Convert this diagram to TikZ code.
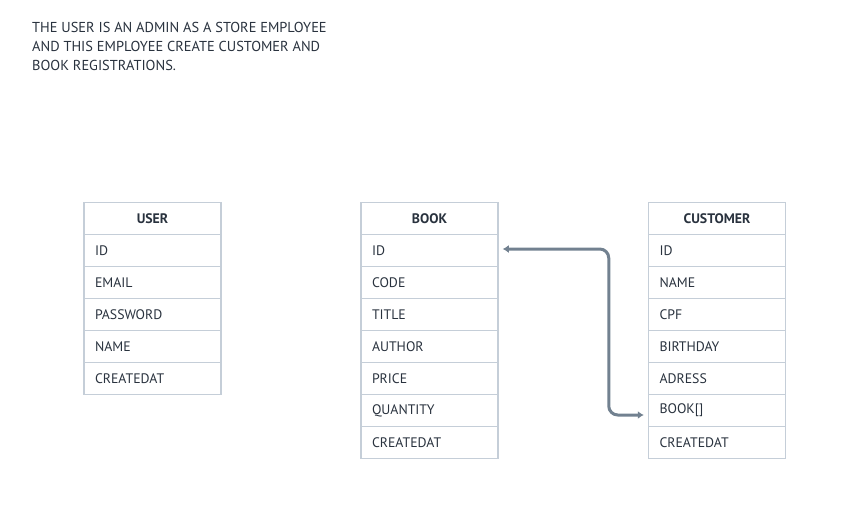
\documentclass[tikz,border=0pt]{standalone}
\usepackage{fontspec}
\setmainfont{PT Sans}
\usetikzlibrary{arrows.meta,positioning}
\definecolor{inkdark}{HTML}{29323E}
\definecolor{gridline}{HTML}{C5CED8}
\definecolor{linkgray}{HTML}{728190}

\begin{document}
\begin{tikzpicture}[x=1pt,y=1pt,>=Latex,
  row/.style={draw=gridline,line width=1.5pt,minimum width=137pt,minimum height=32pt,
    text width=115pt,align=left,inner sep=0pt,font=\fontsize{13.8}{16}\selectfont,text=inkdark},
  head/.style={row,align=center,font=\fontsize{13.8}{16}\selectfont\bfseries},
  link/.style={<->,linkgray,line width=3pt,rounded corners=9pt,
    >={Latex[length=6pt,width=8pt]}}]
  \useasboundingbox (0,0) rectangle (860,-524);
  \node[anchor=north west,align=left,inner sep=0pt,text=inkdark,
    font=\fontsize{14.4}{19}\selectfont] (note) at (32,-22)
    {THE USER IS AN ADMIN AS A STORE EMPLOYEE\\AND THIS EMPLOYEE CREATE CUSTOMER AND\\BOOK REGISTRATIONS.};
  % user table
  \node[head] (user-0) at (152.5,-218.5) {USER};
  \foreach \f [count=\i] in {ID,EMAIL,PASSWORD,NAME,CREATEDAT}
    {\node[row] (user-\i) at (152.5,{-218.5-32*\i}) {\f};}
  % book table
  \node[head] (book-0) at (429.5,-218.5) {BOOK};
  \foreach \f [count=\i] in {ID,CODE,TITLE,AUTHOR,PRICE,QUANTITY,CREATEDAT}
    {\node[row] (book-\i) at (429.5,{-218.5-32*\i}) {\f};}
  % customer table
  \node[head] (cust-0) at (717,-218.5) {CUSTOMER};
  \foreach \f [count=\i] in {ID,NAME,CPF,BIRTHDAY,ADRESS,BOOK[],CREATEDAT}
    {\node[row] (cust-\i) at (717,{-218.5-32*\i}) {\f};}
  \draw[link] ([xshift=4pt,yshift=1.5pt]book-1.east) -- ++(106,0)
    |- ([xshift=-4pt,yshift=-4.5pt]cust-6.west);
\end{tikzpicture}
\end{document}
